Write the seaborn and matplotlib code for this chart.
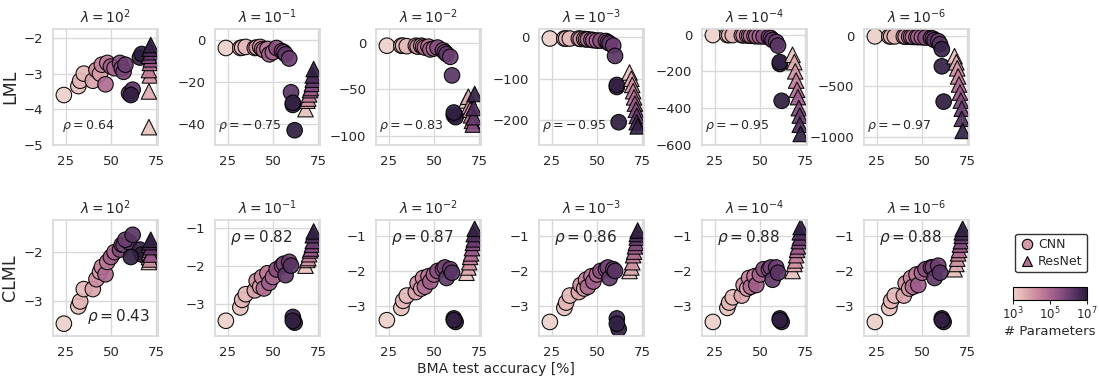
import numpy as np
import pandas as pd
import seaborn as sns
import matplotlib
matplotlib.use("Agg")
import matplotlib.pyplot as plt
from matplotlib.colors import LogNorm
from matplotlib.lines import Line2D

# ---------------- data ----------------
lambda_exps = [2, -1, -2, -3, -4, -6]
rho_lml = [0.64, -0.75, -0.83, -0.95, -0.95, -0.97]
rho_clml = [0.43, 0.82, 0.87, 0.86, 0.88, 0.88]

# CNN models: log10(# parameters) and BMA test accuracy
cnn_log_params = [3.0, 3.3, 3.5, 3.4, 3.8, 4.2, 3.9, 4.4, 4.9, 4.6, 5.2,
                  5.0, 5.6, 5.4, 5.9, 6.2, 6.0, 6.3, 6.8, 7.0, 6.9]
cnn_acc = [24, 32, 33, 35, 40, 41, 43, 44, 45, 47, 48,
           50, 52, 55, 56, 57, 59, 60, 61, 62, 61]
cnn_acc_lam2 = [24, 32, 33, 35, 40, 42, 44, 45, 47, 48, 50,
                52, 55, 56, 57, 60, 58, 62, 66, 67, 61]

# ResNet models
res_log_params = [3.3, 3.7, 4.1, 4.5, 4.9, 5.3, 5.7, 6.1, 6.5, 6.9]
res_acc = [68, 69, 69.5, 70, 70.5, 71, 71.5, 72, 72, 72.5]
res_acc_lam2 = [71, 71, 71.5, 71, 71.5, 72, 71, 72, 71.5, 72]

# LML values (top row)
cnn_lml_l2 = [-3.6, -3.35, -3.2, -3.0, -3.2, -2.9, -3.0, -2.75, -3.3, -2.7, -2.8,
              -2.85, -2.7, -2.85, -2.95, -3.55, -2.75, -3.45, -2.55, -2.45, -3.6]
cnn_lml_l1 = [-4, -4, -3.8, -3.5, -4, -3.8, -3.5, -4.5, -5, -4.5, -7,
              -6, -4, -5.5, -6, -7, -9, -25, -31, -43, -30]
cnn_lml_l01 = [-3, -3, -3, -3.5, -3, -4, -3, -4, -5, -4, -7,
               -6, -5, -8, -10, -12, -15, -35, -78, -80, -75]
cnn_lml_l001 = [-3, -3, -3, -3, -3, -4, -4, -5, -5, -6, -7,
                -8, -8, -9, -12, -15, -20, -45, -120, -205, -115]
cnn_lml_l1e4 = [-3, -3, -3, -3, -4, -4, -5, -6, -7, -8, -9,
                -10, -10, -15, -20, -30, -40, -60, -160, -360, -150]
cnn_lml_l1e6 = [-3, -3, -3, -3, -4, -5, -6, -7, -8, -9, -10,
                -12, -15, -20, -25, -40, -50, -80, -130, -650, -300]

res_lml_l2 = [-4.5, -3.5, -3.05, -2.9, -2.7, -2.6, -2.5, -2.4, -2.3, -2.2]
res_lml_l1 = [-33, -29, -28, -26, -24, -23, -21, -19, -17, -14]
res_lml_l01 = [-62, -58, -68, -72, -78, -84, -88, -80, -70, -55]
res_lml_l001 = [-85, -100, -115, -130, -145, -160, -175, -190, -205, -215]
res_lml_l1e4 = [-110, -150, -200, -250, -300, -340, -400, -440, -490, -540]
res_lml_l1e6 = [-200, -260, -320, -400, -480, -560, -640, -720, -820, -940]

# CLML values (bottom row)
cnn_clml_l2 = [-3.45, -3.1, -3.0, -2.75, -2.75, -2.55, -2.4, -2.3, -2.45, -2.2, -2.1,
               -2.0, -1.95, -1.85, -1.85, -1.8, -1.75, -1.65, -1.95, -2.05, -2.1]
cnn_clml_l1 = [-3.45, -3.1, -2.9, -2.75, -2.65, -2.4, -2.55, -2.3, -2.6, -2.2, -2.45,
               -2.3, -2.1, -2.0, -1.95, -2.25, -1.9, -2.0, -3.35, -3.5, -3.45]
cnn_clml_l01 = [-3.4, -3.05, -2.85, -2.7, -2.6, -2.35, -2.5, -2.2, -2.45, -2.15, -2.3,
                -2.1, -2.0, -1.95, -1.9, -2.2, -1.95, -2.05, -3.35, -3.45, -3.4]
cnn_clml_l001 = [-3.45, -3.05, -2.9, -2.7, -2.6, -2.4, -2.5, -2.25, -2.45, -2.15, -2.3,
                 -2.1, -2.0, -1.95, -1.9, -2.2, -1.95, -2.0, -3.35, -3.65, -3.5]
cnn_clml_l1e4 = [-3.45, -3.05, -2.9, -2.75, -2.7, -2.4, -2.5, -2.2, -2.45, -2.15, -2.4,
                 -2.1, -1.95, -1.95, -1.9, -2.25, -1.9, -2.05, -3.35, -3.45, -3.4]
cnn_clml_l1e6 = [-3.45, -3.05, -2.85, -2.7, -2.7, -2.35, -2.5, -2.2, -2.45, -2.1, -2.4,
                 -2.05, -1.95, -1.9, -1.9, -2.2, -1.85, -2.05, -3.35, -3.45, -3.4]

res_clml_l2 = [-2.2, -2.1, -2.15, -2.0, -1.95, -2.05, -1.85, -1.9, -1.8, -1.75]
res_clml_l1 = [-2.0, -1.85, -1.8, -1.7, -1.6, -1.55, -1.45, -1.35, -1.2, -1.1]
res_clml_l01 = [-2.05, -1.9, -1.75, -1.6, -1.5, -1.35, -1.2, -1.1, -0.95, -0.8]
res_clml_l001 = [-2.0, -1.9, -1.75, -1.55, -1.45, -1.3, -1.2, -1.05, -0.95, -0.85]
res_clml_l1e4 = [-2.0, -1.8, -1.7, -1.55, -1.4, -1.3, -1.15, -1.05, -0.9, -0.75]
res_clml_l1e6 = [-1.95, -1.8, -1.65, -1.5, -1.4, -1.25, -1.15, -1.0, -0.9, -0.8]

cnn_lml = [cnn_lml_l2, cnn_lml_l1, cnn_lml_l01, cnn_lml_l001, cnn_lml_l1e4, cnn_lml_l1e6]
res_lml = [res_lml_l2, res_lml_l1, res_lml_l01, res_lml_l001, res_lml_l1e4, res_lml_l1e6]
cnn_clml = [cnn_clml_l2, cnn_clml_l1, cnn_clml_l01, cnn_clml_l001, cnn_clml_l1e4, cnn_clml_l1e6]
res_clml = [res_clml_l2, res_clml_l1, res_clml_l01, res_clml_l001, res_clml_l1e4, res_clml_l1e6]

top_ylims = [(-5, -1.75), (-50, 5), (-110, 15), (-260, 20), (-600, 30), (-1080, 70)]
top_yticks = [[-5, -4, -3, -2], [-40, -20, 0], [-100, -50, 0], [-200, -100, 0],
              [-600, -400, -200, 0], [-1000, -500, 0]]
bot_ylims = [(-3.7, -1.35), (-3.85, -0.8), (-3.85, -0.55), (-3.85, -0.55),
             (-3.85, -0.55), (-3.85, -0.55)]
bot_yticks = [[-3, -2], [-3, -2, -1], [-3, -2, -1], [-3, -2, -1], [-3, -2, -1], [-3, -2, -1]]

# ---------------- style ----------------
sns.set_theme(style="whitegrid")
plt.rcParams["font.family"] = ["DejaVu Sans"]
plt.rcParams["axes.edgecolor"] = "0.85"
plt.rcParams["grid.color"] = "0.85"

cmap = sns.cubehelix_palette(as_cmap=True)

fig = plt.figure(figsize=(10.99, 3.77), dpi=100)

lefts = [53, 215, 376, 539, 702, 864]
W = 105 / 1099
H = 116 / 377
top_y0 = 1 - 145 / 377
bot_y0 = 1 - 336 / 377


def make_df(cacc, cval, racc, rval):
    d1 = pd.DataFrame({"acc": cacc, "val": cval, "logp": cnn_log_params, "model": "CNN"})
    d2 = pd.DataFrame({"acc": racc, "val": rval, "logp": res_log_params, "model": "ResNet"})
    return pd.concat([d1, d2], ignore_index=True)


def rho_text(r):
    if r < 0:
        return r"$\rho = -\,%.2f$" % abs(r)
    return r"$\rho = %.2f$" % r


for row in range(2):
    for col in range(6):
        y0 = top_y0 if row == 0 else bot_y0
        ax = fig.add_axes([lefts[col] / 1099, y0, W, H])
        cacc = cnn_acc_lam2 if col == 0 else cnn_acc
        racc = res_acc_lam2 if col == 0 else res_acc
        if row == 0:
            df = make_df(cacc, cnn_lml[col], racc, res_lml[col])
        else:
            df = make_df(cacc, cnn_clml[col], racc, res_clml[col])
        sns.scatterplot(data=df, x="acc", y="val", hue="logp", hue_norm=(3, 7),
                        palette=cmap, style="model",
                        markers={"CNN": "o", "ResNet": "^"},
                        s=125, edgecolor="black", linewidth=0.8, alpha=0.92,
                        legend=False, ax=ax)
        ax.set_xlim(18, 76)
        ax.set_xticks([25, 50, 75])
        if row == 0:
            ax.set_ylim(*top_ylims[col])
            ax.set_yticks(top_yticks[col])
        else:
            ax.set_ylim(*bot_ylims[col])
            ax.set_yticks(bot_yticks[col])
        ax.tick_params(labelsize=9.5, pad=1, colors="0.15")
        ax.set_xlabel("")
        ax.set_ylabel("")
        ax.set_title(r"$\lambda = 10^{%d}$" % lambda_exps[col], fontsize=10, pad=4)
        if row == 0:
            xpos = 0.09 if col == 0 else 0.03
            ax.text(xpos, 0.16, rho_text(rho_lml[col]), transform=ax.transAxes,
                    fontsize=9, va="center", ha="left", color="0.15")
            if col == 0:
                ax.set_ylabel("LML", fontsize=12.5, labelpad=3)
        else:
            if col == 0:
                ax.text(0.32, 0.165, rho_text(rho_clml[col]), transform=ax.transAxes,
                        fontsize=11, va="center", ha="left", color="0.15")
                ax.set_ylabel("CLML", fontsize=12.5, labelpad=3)
            else:
                ax.text(0.14, 0.845, rho_text(rho_clml[col]), transform=ax.transAxes,
                        fontsize=11, va="center", ha="left", color="0.15")

fig.text(0.451, 0.022, "BMA test accuracy [%]", ha="center", va="center",
         fontsize=10, color="0.15")

# legend
handles = [
    Line2D([0], [0], marker="o", linestyle="", markersize=7.5, markerfacecolor=cmap(0.25),
           markeredgecolor="black", markeredgewidth=0.8, label="CNN"),
    Line2D([0], [0], marker="^", linestyle="", markersize=7.5, markerfacecolor=cmap(0.45),
           markeredgecolor="black", markeredgewidth=0.8, label="ResNet"),
]
leg = fig.legend(handles=handles, loc="center", bbox_to_anchor=(1051 / 1099, 1 - 253 / 377),
                 fontsize=9, frameon=True, handletextpad=0.3, borderpad=0.35,
                 labelspacing=0.3, handlelength=1.2)
leg.get_frame().set_edgecolor("black")
leg.get_frame().set_linewidth(1.0)

# colorbar
cax = fig.add_axes([1013 / 1099, 1 - 300 / 377, 74 / 1099, 13 / 377])
sm = plt.cm.ScalarMappable(norm=LogNorm(1e3, 1e7), cmap=cmap)
cb = fig.colorbar(sm, cax=cax, orientation="horizontal")
cb.set_ticks([1e3, 1e5, 1e7])
cb.ax.tick_params(labelsize=8.5, pad=1, length=3, width=0.8, colors="0.15")
cb.outline.set_edgecolor("black")
cb.outline.set_linewidth(0.8)
cb.set_label("# Parameters", fontsize=9.5, labelpad=2, color="0.15")

fig.savefig("out.png", dpi=100)
